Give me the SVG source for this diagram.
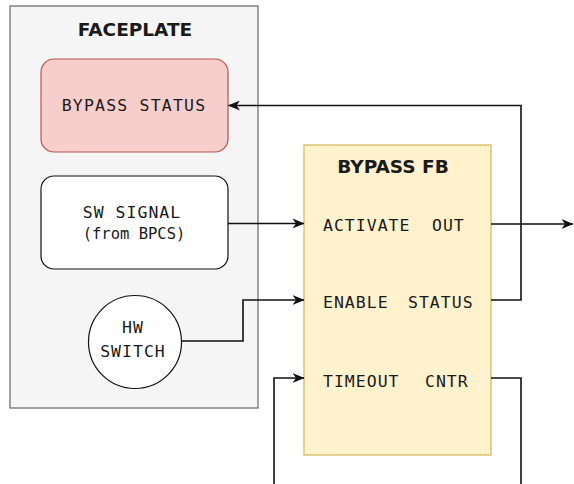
<svg xmlns="http://www.w3.org/2000/svg" width="574" height="484" viewBox="0 0 574 484">
  <defs>
    <style>
      .title { font-family: "DejaVu Sans", "Liberation Sans", sans-serif; font-weight: bold; font-size: 18.5px; fill: #1a1a1a; text-anchor: middle; }
      .mono { font-family: "DejaVu Sans Mono", "Liberation Mono", monospace; font-size: 16.5px; fill: #1a1a1a; letter-spacing: 1px; }
      .mid { text-anchor: middle; }
      .tight { font-size: 15.5px; letter-spacing: 0; }
      .wide { letter-spacing: 1.2px; }
      .wire { fill: none; stroke: #111; stroke-width: 1.6; }
    </style>
    <marker id="arrow" viewBox="0 0 12 10" refX="11.5" refY="5" markerWidth="12" markerHeight="10" markerUnits="userSpaceOnUse" orient="auto">
      <path d="M0,0 L12,5 L0,10 L3.5,5 Z" fill="#111"/>
    </marker>
  </defs>

  <!-- Faceplate container -->
  <g id="faceplate">
    <rect x="10" y="6" width="248" height="402" fill="#f5f5f5" stroke="#666" stroke-width="1.2"/>
    <text class="title" x="135" y="36">FACEPLATE</text>
  </g>

  <g id="bypass-status">
    <rect x="41" y="59" width="187" height="93" rx="13" fill="#f8cecc" stroke="#b85450" stroke-width="1.2"/>
    <text class="mono mid wide" x="134" y="111">BYPASS STATUS</text>
  </g>

  <g id="sw-signal">
    <rect x="41" y="176" width="187" height="93" rx="13" fill="#ffffff" stroke="#111" stroke-width="1.2"/>
    <text class="mono mid" x="132" y="218">SW SIGNAL</text>
    <text class="mono mid tight" x="134" y="239">(from BPCS)</text>
  </g>

  <g id="hw-switch">
    <circle cx="135" cy="342" r="46.5" fill="#ffffff" stroke="#111" stroke-width="1.2"/>
    <text class="mono mid" x="133" y="333">HW</text>
    <text class="mono mid" x="133" y="357">SWITCH</text>
  </g>

  <!-- Bypass function block -->
  <g id="bypass-fb">
    <rect x="304" y="145" width="187" height="310" fill="#fff2cc" stroke="#d6b656" stroke-width="1.2"/>
    <text class="title" x="393" y="173">BYPASS FB</text>
    <text class="mono" x="323" y="231">ACTIVATE</text>
    <text class="mono" x="432" y="231">OUT</text>
    <text class="mono" x="323" y="308">ENABLE</text>
    <text class="mono" x="408" y="308">STATUS</text>
    <text class="mono" x="323" y="387">TIMEOUT</text>
    <text class="mono" x="425" y="387">CNTR</text>
  </g>

  <g id="connectors">
    <!-- STATUS back to faceplate -->
    <path class="wire" d="M491,300 H521 V105.5 H228.5" marker-end="url(#arrow)"/>
    <!-- OUT to the right -->
    <path class="wire" d="M491,224 H573" marker-end="url(#arrow)"/>
    <!-- SW signal to ACTIVATE -->
    <path class="wire" d="M228,223.5 H304" marker-end="url(#arrow)"/>
    <!-- HW switch to ENABLE -->
    <path class="wire" d="M181.5,341 H243 V300 H304" marker-end="url(#arrow)"/>
    <!-- CNTR leaves at the bottom -->
    <path class="wire" d="M491,378 H521 V484"/>
    <!-- timeout feedback enters from the bottom -->
    <path class="wire" d="M274,484 V378 H304" marker-end="url(#arrow)"/>
  </g>
</svg>
